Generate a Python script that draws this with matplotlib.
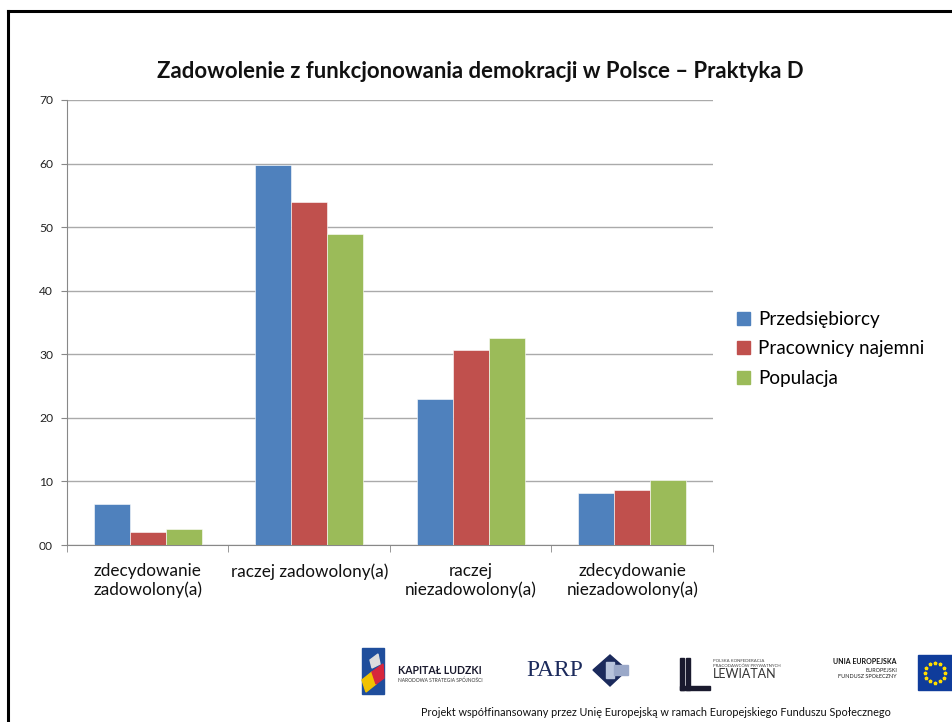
import matplotlib
matplotlib.use("Agg")
import matplotlib.pyplot as plt
from matplotlib.lines import Line2D
from matplotlib.patches import Rectangle, Polygon
import numpy as np

categories = ["zdecydowanie\nzadowolony(a)", "raczej zadowolony(a)",
              "raczej\nniezadowolony(a)", "zdecydowanie\nniezadowolony(a)"]
series_names = ["Przedsiębiorcy", "Pracownicy najemni", "Populacja"]
przedsiebiorcy = [6.4, 59.8, 22.9, 8.2]
pracownicy = [2.1, 53.9, 30.6, 8.6]
populacja = [2.5, 49.0, 32.5, 10.3]
y_ticks = [0, 10, 20, 30, 40, 50, 60, 70]
y_tick_labels = ["00", "10", "20", "30", "40", "50", "60", "70"]
title = "Zadowolenie z funkcjonowania demokracji w Polsce – Praktyka D"
footer = "Projekt współfinansowany przez Unię Europejską w ramach Europejskiego Funduszu Społecznego"

colors = ["#4F81BD", "#C0504D", "#9BBB59"]
FONT = ["Lato", "DejaVu Sans"]
plt.rcParams["font.family"] = FONT

fig = plt.figure(figsize=(9.53, 7.22), dpi=100)
ax = fig.add_axes([67/953, 1-545/722, 646/953, 445/722])

x = np.arange(len(categories))
w = 0.222
for i, (vals, name) in enumerate(zip([przedsiebiorcy, pracownicy, populacja], series_names)):
    ax.bar(x + (i - 1) * w, vals, width=w, color=colors[i], label=name,
           edgecolor="white", linewidth=0.4, zorder=3)

ax.set_xlim(-0.5, 3.5)
ax.set_ylim(0, 70)
ax.set_yticks(y_ticks)
ax.set_yticklabels(y_tick_labels, fontsize=8.7, color="#222222")
ax.yaxis.grid(True, color="#AAAAAA", linewidth=1.0, zorder=0)
ax.set_xticks(x)
ax.set_xticklabels(categories, fontsize=12.3, color="#111111", linespacing=1.15)
ax.set_xticks(np.arange(-0.5, 4.0, 1.0), minor=True)
ax.tick_params(axis="x", which="major", length=0, pad=13)
ax.tick_params(axis="x", which="minor", length=5, color="#888888", direction="out")
ax.tick_params(axis="y", length=4, color="#888888", direction="out", pad=6)
for s in ["top", "right"]:
    ax.spines[s].set_visible(False)
ax.spines["left"].set_color("#888888")
ax.spines["bottom"].set_color("#888888")

fig.text(480/953, 1-72/722, title, ha="center", va="center", fontsize=15.9,
         fontweight="bold", color="#111111")

handles = [Rectangle((0, 0), 1, 1, color=c) for c in colors]
fig.legend(handles, series_names, loc="center left",
           bbox_to_anchor=(720/953, 1-349/722), frameon=False, fontsize=13.6,
           handlelength=0.7, handleheight=0.7, handletextpad=0.4, labelspacing=0.65)

# Slide frame
fig.add_artist(Line2D([8/953, 8/953], [0, 1-11/722], transform=fig.transFigure,
                      color="black", linewidth=2.2))
fig.add_artist(Line2D([8/953, 1], [1-11/722, 1-11/722], transform=fig.transFigure,
                      color="black", linewidth=2.2))

# Logos (simplified)
def fx(px):
    return px/953
def fy(py):
    return 1-py/722

# Kapitał Ludzki
fig.add_artist(Rectangle((fx(362), fy(694)), 22/953, 46/722, transform=fig.transFigure,
                         color="#1F4E9C"))
fig.add_artist(Polygon([(fx(362), fy(680)), (fx(372), fy(672)), (fx(376), fy(684)), (fx(366), fy(692))],
                       closed=True, transform=fig.transFigure, color="#F2C200"))
fig.add_artist(Polygon([(fx(372), fy(672)), (fx(383), fy(664)), (fx(384), fy(678)), (fx(376), fy(684))],
                       closed=True, transform=fig.transFigure, color="#D7263D"))
fig.add_artist(Polygon([(fx(370), fy(660)), (fx(378), fy(654)), (fx(380), fy(664)), (fx(372), fy(668))],
                       closed=True, transform=fig.transFigure, color="#DDDDDD"))
fig.text(fx(398), fy(670), "KAPITAŁ LUDZKI", fontsize=7.6, fontweight="bold",
         color="#1a1a2e", va="center", ha="left")
fig.text(fx(398), fy(680), "NARODOWA STRATEGIA SPÓJNOŚCI", fontsize=3.5,
         color="#333333", va="center", ha="left")

# PARP
fig.text(fx(526), fy(671), "PARP", fontsize=17, family=["Liberation Serif", "DejaVu Serif"],
         color="#1B2A5C", va="center", ha="left")
fig.add_artist(Polygon([(fx(610), fy(655)), (fx(627), fy(670)), (fx(610), fy(686)), (fx(593), fy(670))],
                       closed=True, transform=fig.transFigure, color="#1B2A5C"))
fig.add_artist(Rectangle((fx(606), fy(678)), 8/953, 16/722, transform=fig.transFigure,
                         color="#B8C4DC"))
fig.add_artist(Rectangle((fx(614), fy(675)), 14/953, 10/722, transform=fig.transFigure,
                         color="#9AA8C8"))

# Lewiatan
fig.add_artist(Rectangle((fx(680), fy(690)), 4/953, 32/722, transform=fig.transFigure,
                         color="#1a1a2e"))
fig.add_artist(Rectangle((fx(686), fy(690)), 4/953, 32/722, transform=fig.transFigure,
                         color="#1a1a2e"))
fig.add_artist(Rectangle((fx(680), fy(690)), 30/953, 4/722, transform=fig.transFigure,
                         color="#1a1a2e"))
fig.text(fx(713), fy(661), "POLSKA KONFEDERACJA", fontsize=3.2, color="#444444",
         va="center", ha="left")
fig.text(fx(713), fy(666), "PRACODAWCÓW PRYWATNYCH", fontsize=3.2, color="#444444",
         va="center", ha="left")
fig.text(fx(713), fy(674), "LEWIATAN", fontsize=9, color="#333333",
         va="center", ha="left")

# EU
fig.text(fx(897), fy(662), "UNIA EUROPEJSKA", fontsize=5, fontweight="bold",
         color="#111111", va="center", ha="right")
fig.text(fx(897), fy(670), "EUROPEJSKI", fontsize=4, color="#222222",
         va="center", ha="right")
fig.text(fx(897), fy(677), "FUNDUSZ SPOŁECZNY", fontsize=4, color="#222222",
         va="center", ha="right")
fig.add_artist(Rectangle((fx(918), fy(690)), 34/953, 35/722, transform=fig.transFigure,
                         color="#0F3C9B"))
cx, cy, r = 935, 672.5, 10
for k in range(12):
    a = 2*np.pi*k/12
    fig.add_artist(Line2D([fx(cx + r*np.cos(a))], [fy(cy + r*np.sin(a))], transform=fig.transFigure,
                          marker="*", markersize=2.5, color="#FFDD00", linestyle="none"))

fig.text(fx(656), fy(713), footer, fontsize=7.8, color="#111111", va="center", ha="center")

fig.savefig("out.png", dpi=100, facecolor="white")
